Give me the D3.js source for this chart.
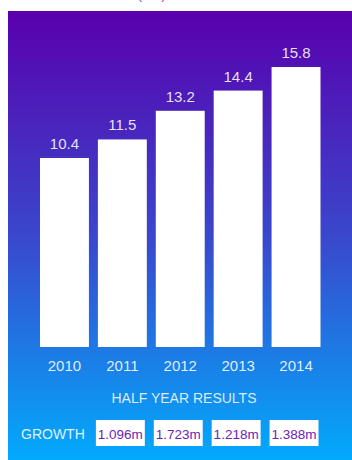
<!DOCTYPE html>
<html>
<head>
<meta charset="utf-8">
<title>Half Year Results</title>
<script src="https://d3js.org/d3.v7.min.js"></script>
<style>
    html, body {
        margin: 0;
        padding: 0;
        background: white;
        overflow: hidden;
    }
    svg text {
        font-family: "Liberation Sans", Arial, sans-serif;
    }
</style>
</head>
<body>
<div id="graph"></div>
<script>
    // chart data
    var years = ["2010", "2011", "2012", "2013", "2014"];
    var revenue = [10.4, 11.5, 13.2, 14.4, 15.8];
    var growthYears = ["2011", "2012", "2013", "2014"];
    var growth = [1.096, 1.723, 1.218, 1.388];

    var width = 352, height = 460;

    var svg = d3.select("#graph")
        .append("svg")
            .attr("width", width)
            .attr("height", height);

    // background gradient
    var grad = svg.append("defs").append("linearGradient")
        .attr("id", "bg")
        .attr("x1", 0).attr("y1", 0).attr("x2", 0).attr("y2", 1);
    grad.append("stop").attr("offset", "0%").attr("stop-color", "#5900ad");
    grad.append("stop").attr("offset", "50%").attr("stop-color", "#3a47cc");
    grad.append("stop").attr("offset", "100%").attr("stop-color", "#02aafc");

    svg.append("rect")
        .attr("x", 8)
        .attr("y", 11)
        .attr("width", width - 8)
        .attr("height", height - 11)
        .attr("fill", "url(#bg)");

    // title, mostly cut off above the panel
    svg.append("text")
        .attr("x", 166)
        .attr("y", -1)
        .attr("text-anchor", "end")
        .style("font-size", "14px")
        .style("fill", "#8a4fe0")
        .text("Revenue ($m)");

    var x = d3.scaleBand()
        .domain(years)
        .range([40, 320.5])
        .paddingInner(0.155)
        .paddingOuter(0);

    var baseY = 347;
    var y = d3.scaleLinear()
        .domain([-0.82, 15.8])
        .range([baseY, 67]);

    svg.selectAll(".bar")
        .data(revenue)
        .enter()
        .append("rect")
            .attr("class", "bar")
            .attr("x", function(d, i) { return x(years[i]); })
            .attr("y", function(d) { return y(d); })
            .attr("width", x.bandwidth())
            .attr("height", function(d) { return baseY - y(d); })
            .attr("fill", "white");

    // value labels
    svg.selectAll(".val")
        .data(revenue)
        .enter()
        .append("text")
            .attr("class", "val")
            .attr("x", function(d, i) { return x(years[i]) + x.bandwidth() / 2; })
            .attr("y", function(d) { return y(d) - 9; })
            .attr("text-anchor", "middle")
            .style("font-size", "15px")
            .style("fill", "rgba(255,255,255,0.88)")
            .text(function(d) { return d3.format(".1f")(d); });

    // year axis
    var xAxis = d3.axisBottom(x).tickSize(0).tickPadding(0);
    var xGroup = svg.append("g")
        .attr("transform", "translate(0," + 360 + ")")
        .call(xAxis);
    xGroup.select(".domain").remove();
    xGroup.selectAll("text")
        .attr("dy", "0.73em")
        .style("font-family", "'Liberation Sans', Arial, sans-serif")
        .style("font-size", "15px")
        .style("fill", "rgba(255,255,255,0.88)");

    svg.append("text")
        .attr("x", 184)
        .attr("y", 403)
        .attr("text-anchor", "middle")
        .style("font-size", "14px")
        .style("fill", "rgba(255,255,255,0.85)")
        .text("HALF YEAR RESULTS");

    // growth row
    svg.append("text")
        .attr("x", 21)
        .attr("y", 439)
        .style("font-size", "14px")
        .style("fill", "rgba(255,255,255,0.88)")
        .text("GROWTH");

    var boxes = svg.selectAll(".growth")
        .data(growth)
        .enter()
        .append("g")
            .attr("class", "growth")
            .attr("transform", function(d, i) {
                return "translate(" + (x(growthYears[i]) - 2) + ",420)";
            });

    boxes.append("rect")
        .attr("width", x.bandwidth())
        .attr("height", 26)
        .attr("fill", "white");

    boxes.append("text")
        .attr("x", x.bandwidth() / 2)
        .attr("y", 19)
        .attr("text-anchor", "middle")
        .style("font-size", "13.5px")
        .style("fill", "#6c22b8")
        .text(function(d) { return d3.format(".3f")(d) + "m"; });
</script>
</body>
</html>
